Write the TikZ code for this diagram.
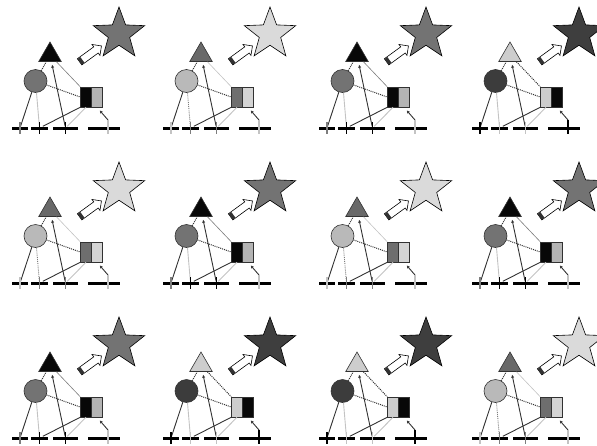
\documentclass[tikz,border=0pt]{standalone}
\usepackage{xcolor}
\usepackage{tikz}
\usetikzlibrary{arrows.meta,shapes.geometric,shapes.arrows}
\definecolor{inkdark}{RGB}{50,50,50}
\definecolor{inkmid}{RGB}{125,125,125}
\definecolor{inklight}{RGB}{195,195,195}
\definecolor{starA}{RGB}{115,115,115}
\definecolor{starB}{RGB}{218,218,218}
\definecolor{starC}{RGB}{62,62,62}
\definecolor{triA}{RGB}{8,8,8}
\definecolor{triB}{RGB}{105,105,105}
\definecolor{triC}{RGB}{205,205,205}
\definecolor{circA}{RGB}{115,115,115}
\definecolor{circB}{RGB}{185,185,185}
\definecolor{circC}{RGB}{60,60,60}
\definecolor{leftA}{RGB}{8,8,8}
\definecolor{rightA}{RGB}{180,180,180}
\definecolor{leftB}{RGB}{110,110,110}
\definecolor{rightB}{RGB}{212,212,212}
\definecolor{leftC}{RGB}{205,205,205}
\definecolor{rightC}{RGB}{8,8,8}
\colorlet{tickaA}{inkmid}
\colorlet{tickbA}{black}
\colorlet{tickcA}{black}
\colorlet{tickdA}{inklight}
\colorlet{tickaB}{inklight}
\colorlet{tickbB}{inkmid}
\colorlet{tickcB}{inkmid}
\colorlet{tickdB}{inklight}
\colorlet{tickaC}{black}
\colorlet{tickbC}{inklight}
\colorlet{tickcC}{inklight}
\colorlet{tickdC}{black}
\tikzset{
  shapeline/.style={draw=inkdark,line width=0.6pt},
  startip/.style={star,star points=5,star point ratio=2.4,minimum size=54pt,
    inner sep=0pt,draw=black,line width=0.6pt},
  tribox/.style={regular polygon,regular polygon sides=3,minimum size=26pt,
    inner sep=0pt,shapeline},
  circbox/.style={circle,minimum size=23pt,inner sep=0pt,shapeline},
  halfbox/.style={rectangle,minimum width=11pt,minimum height=20pt,
    inner sep=0pt,shapeline},
  barnode/.style={rectangle,fill=black,minimum height=3pt,inner sep=0pt},
  hint/.style={single arrow,draw=black,fill=white,line width=0.6pt,
    minimum height=27pt,inner xsep=0pt,inner ysep=3.5pt,
    single arrow head extend=3pt,rotate=36},
  tailcap/.style={rectangle,fill=inkdark,minimum width=3.5pt,
    minimum height=7pt,inner sep=0pt,rotate=36},
  link/.style={line width=0.9pt,draw=inkdark},
  dotlink/.style={line width=1pt,draw=inkdark,densely dotted},
  paleline/.style={line width=0.9pt,draw=inklight},
  signtick/.style={line width=1.4pt},
  linktip/.style={-{Latex[length=3pt,width=3.2pt]}},
  tsA/.style={line width=0.6pt,draw=inkmid},
  tsB/.style={line width=0.6pt,draw=inklight},
  tsC/.style={dotlink},
  cbA/.style={paleline},
  cbB/.style={line width=0.9pt,draw=inkmid,densely dotted},
  cbC/.style={paleline},
  pics/glyph/.style={code={
    \node[startip,fill=star#1] (-star) at (119,34) {};
    \node[hint] (-hint) at (89,55) {};
    \node[tailcap,anchor=west] (-cap) at (-hint.tail) {};
    \node[tribox,fill=tri#1] (-tri) at (50,55) {};
    \node[circbox,fill=circ#1] (-circ) at (35.5,81) {};
    \node[halfbox,fill=left#1] (-sqL) at (86,97) {};
    \node[halfbox,fill=right#1] (-sqR) at (97,97) {};
    \node[barnode,minimum width=16pt] (-b1) at (20,128) {};
    \node[barnode,minimum width=17pt] (-b2) at (39.5,128) {};
    \node[barnode,minimum width=25pt] (-b3) at (65.5,128) {};
    \node[barnode,minimum width=32pt] (-b4) at (104,128) {};
    \coordinate (-b4t) at (108,120);
    \draw[link] (-circ) -- (-b1);
    \draw[cb#1] (-circ) -- (-b2);
    \draw[link,linktip,shorten >=3pt] (-b3) -- (-tri);
    \draw[dotlink] (-circ) -- (-tri);
    \draw[ts#1] (-tri) -- (-sqL.north west);
    \draw[dotlink] (-circ) -- (-sqL.west);
    \draw[link] (-sqL.south west) -- (-b2);
    \draw[paleline] (-sqL.south) -- (-b3);
    \draw[link,linktip,shorten >=4pt] (-b4t) -- (-sqR.south);
    \draw[signtick,draw=ticka#1] (-b1) ++(0,-6) -- ++(0,12);
    \draw[signtick,draw=tickb#1] (-b2) ++(0,-6) -- ++(0,12);
    \draw[signtick,draw=tickc#1] (-b3) ++(0,-6) -- ++(0,12);
    \draw[signtick,draw=tickd#1] (-b4t) -- ++(0,14);
  }}
}
\begin{document}
\begin{tikzpicture}[x=1pt,y=-1pt]
  \useasboundingbox (0,0) rectangle (597,445);
  \pic (g11) at (0,0) {glyph=A};
  \pic (g12) at (151,0) {glyph=B};
  \pic (g13) at (307,0) {glyph=A};
  \pic (g14) at (460,0) {glyph=C};
  \pic (g21) at (0,155) {glyph=B};
  \pic (g22) at (151,155) {glyph=A};
  \pic (g23) at (307,155) {glyph=B};
  \pic (g24) at (460,155) {glyph=A};
  \pic (g31) at (0,310) {glyph=A};
  \pic (g32) at (151,310) {glyph=C};
  \pic (g33) at (307,310) {glyph=C};
  \pic (g34) at (460,310) {glyph=B};
\end{tikzpicture}
\end{document}
